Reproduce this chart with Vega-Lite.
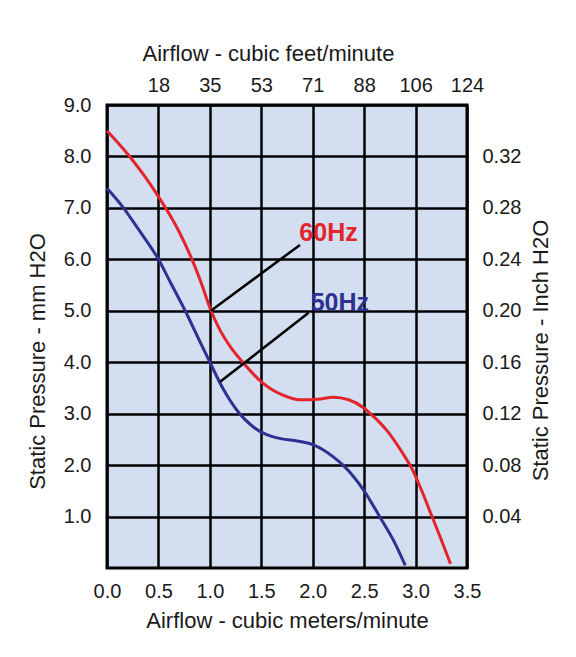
{
  "$schema": "https://vega.github.io/schema/vega-lite/v6.json",
  "width": 360,
  "height": 463,
  "autosize": {"type": "none"},
  "padding": {"left": 107, "top": 105, "right": 109, "bottom": 89},
  "background": "white",
  "config": {
    "font": "Liberation Sans",
    "view": {"fill": "#d3def0", "stroke": "black", "strokeWidth": 3},
    "axis": {
      "labelFont": "Liberation Sans",
      "titleFont": "Liberation Sans",
      "labelFontSize": 20,
      "titleFontSize": 22,
      "titleFontWeight": "normal",
      "labelColor": "#1a1a1a",
      "titleColor": "#1a1a1a",
      "ticks": false,
      "domain": false,
      "labelFlush": false,
      "labelOverlap": false
    }
  },
  "datasets": {
    "curves": [
      {"series": "60Hz", "flow": 0.0, "pressure": 8.5},
      {"series": "60Hz", "flow": 0.22, "pressure": 8.0},
      {"series": "60Hz", "flow": 0.35, "pressure": 7.66},
      {"series": "60Hz", "flow": 0.5, "pressure": 7.22},
      {"series": "60Hz", "flow": 0.6, "pressure": 6.9},
      {"series": "60Hz", "flow": 0.7, "pressure": 6.54},
      {"series": "60Hz", "flow": 0.83, "pressure": 5.98},
      {"series": "60Hz", "flow": 0.92, "pressure": 5.52},
      {"series": "60Hz", "flow": 1.0, "pressure": 5.06},
      {"series": "60Hz", "flow": 1.1, "pressure": 4.62},
      {"series": "60Hz", "flow": 1.2, "pressure": 4.3},
      {"series": "60Hz", "flow": 1.32, "pressure": 4.0},
      {"series": "60Hz", "flow": 1.5, "pressure": 3.62},
      {"series": "60Hz", "flow": 1.7, "pressure": 3.37},
      {"series": "60Hz", "flow": 1.88, "pressure": 3.27},
      {"series": "60Hz", "flow": 2.05, "pressure": 3.28},
      {"series": "60Hz", "flow": 2.2, "pressure": 3.32},
      {"series": "60Hz", "flow": 2.35, "pressure": 3.27},
      {"series": "60Hz", "flow": 2.49, "pressure": 3.12},
      {"series": "60Hz", "flow": 2.56, "pressure": 3.0},
      {"series": "60Hz", "flow": 2.65, "pressure": 2.83},
      {"series": "60Hz", "flow": 2.73, "pressure": 2.65},
      {"series": "60Hz", "flow": 2.82, "pressure": 2.4},
      {"series": "60Hz", "flow": 2.9, "pressure": 2.15},
      {"series": "60Hz", "flow": 2.96, "pressure": 1.95},
      {"series": "60Hz", "flow": 3.05, "pressure": 1.55},
      {"series": "60Hz", "flow": 3.15, "pressure": 1.05},
      {"series": "60Hz", "flow": 3.25, "pressure": 0.55},
      {"series": "60Hz", "flow": 3.34, "pressure": 0.08},
      {"series": "50Hz", "flow": 0.0, "pressure": 7.38},
      {"series": "50Hz", "flow": 0.16, "pressure": 7.0},
      {"series": "50Hz", "flow": 0.3, "pressure": 6.6},
      {"series": "50Hz", "flow": 0.5, "pressure": 6.0},
      {"series": "50Hz", "flow": 0.63, "pressure": 5.5},
      {"series": "50Hz", "flow": 0.76, "pressure": 5.0},
      {"series": "50Hz", "flow": 0.88, "pressure": 4.5},
      {"series": "50Hz", "flow": 1.0, "pressure": 4.0},
      {"series": "50Hz", "flow": 1.13, "pressure": 3.48},
      {"series": "50Hz", "flow": 1.29, "pressure": 3.0},
      {"series": "50Hz", "flow": 1.4, "pressure": 2.78},
      {"series": "50Hz", "flow": 1.5, "pressure": 2.64},
      {"series": "50Hz", "flow": 1.6, "pressure": 2.56},
      {"series": "50Hz", "flow": 1.7, "pressure": 2.51},
      {"series": "50Hz", "flow": 1.85, "pressure": 2.47},
      {"series": "50Hz", "flow": 2.0, "pressure": 2.4},
      {"series": "50Hz", "flow": 2.1, "pressure": 2.3},
      {"series": "50Hz", "flow": 2.2, "pressure": 2.16},
      {"series": "50Hz", "flow": 2.3, "pressure": 1.99},
      {"series": "50Hz", "flow": 2.4, "pressure": 1.77},
      {"series": "50Hz", "flow": 2.5, "pressure": 1.5},
      {"series": "50Hz", "flow": 2.65, "pressure": 1.0},
      {"series": "50Hz", "flow": 2.8, "pressure": 0.48},
      {"series": "50Hz", "flow": 2.9, "pressure": 0.05}
    ],
    "leaders": [
      {"series": "60Hz", "flow": 1.01, "pressure": 5.0, "flow2": 1.876, "pressure2": 6.28},
      {"series": "50Hz", "flow": 1.1, "pressure": 3.62, "flow2": 1.96, "pressure2": 4.96}
    ],
    "labels": [
      {"series": "60Hz", "flow": 1.87, "pressure": 6.51},
      {"series": "50Hz", "flow": 1.98, "pressure": 5.15}
    ],
    "conversions": [
      {"flow": 0.5, "mm": 1},
      {"flow": 3.5, "mm": 8}
    ]
  },
  "layer": [
    {
      "layer": [
        {
          "data": {"name": "curves"},
          "mark": {"type": "line", "interpolate": "monotone", "strokeWidth": 3},
          "encoding": {
            "x": {
              "field": "flow", "type": "quantitative",
              "scale": {"domain": [0, 3.5], "nice": false, "zero": false},
              "axis": {
                "orient": "bottom",
                "values": [0, 0.5, 1, 1.5, 2, 2.5, 3, 3.5],
                "format": ".1f",
                "grid": true, "gridColor": "black", "gridWidth": 2.5, "gridOpacity": 1,
                "labelPadding": 13,
                "title": "Airflow - cubic meters/minute",
                "titlePadding": 9
              }
            },
            "y": {
              "field": "pressure", "type": "quantitative",
              "scale": {"domain": [0, 9], "nice": false, "zero": false},
              "axis": {
                "orient": "left",
                "values": [1, 2, 3, 4, 5, 6, 7, 8, 9],
                "format": ".1f",
                "grid": true, "gridColor": "black", "gridWidth": 2.5, "gridOpacity": 1,
                "labelPadding": 16,
                "title": "Static Pressure - mm H2O",
                "titlePadding": 14,
                "titleY": 256
              }
            },
            "color": {
              "field": "series", "type": "nominal",
              "scale": {"domain": ["60Hz", "50Hz"], "range": ["#e3242b", "#2e3192"]},
              "legend": null
            }
          }
        },
        {
          "data": {"name": "leaders"},
          "mark": {"type": "rule", "strokeWidth": 2.5, "color": "black"},
          "encoding": {
            "x": {"field": "flow", "type": "quantitative"},
            "y": {"field": "pressure", "type": "quantitative"},
            "x2": {"field": "flow2"},
            "y2": {"field": "pressure2"}
          }
        },
        {
          "data": {"name": "labels"},
          "mark": {"type": "text", "align": "left", "baseline": "middle", "fontWeight": "bold", "fontSize": 25, "font": "Liberation Sans"},
          "encoding": {
            "x": {"field": "flow", "type": "quantitative"},
            "y": {"field": "pressure", "type": "quantitative"},
            "text": {"field": "series"},
            "color": {"field": "series", "type": "nominal"}
          }
        }
      ]
    },
    {
      "data": {"name": "conversions"},
      "mark": {"type": "point", "opacity": 0},
      "encoding": {
        "x": {
          "field": "flow", "type": "quantitative",
          "scale": {"domain": [0, 3.5], "nice": false, "zero": false},
          "axis": {
            "orient": "top",
            "values": [0.5, 1, 1.5, 2, 2.5, 3, 3.5],
            "labelExpr": "format(round(datum.value * 35.3147), 'd')",
            "grid": false,
            "labelPadding": 10,
            "title": "Airflow - cubic feet/minute",
            "titlePadding": 10,
            "titleX": 161
          }
        },
        "y": {
          "field": "mm", "type": "quantitative",
          "scale": {"domain": [0, 9], "nice": false, "zero": false},
          "axis": {
            "orient": "right",
            "values": [1, 2, 3, 4, 5, 6, 7, 8],
            "labelExpr": "format(datum.value * 0.04, '.2f')",
            "grid": false,
            "labelPadding": 15,
            "title": "Static Pressure - Inch H2O",
            "titleAngle": -90,
            "titleBaseline": "top",
            "titlePadding": 10,
            "titleY": 245
          }
        }
      }
    }
  ],
  "resolve": {"scale": {"x": "independent", "y": "independent"}}
}
